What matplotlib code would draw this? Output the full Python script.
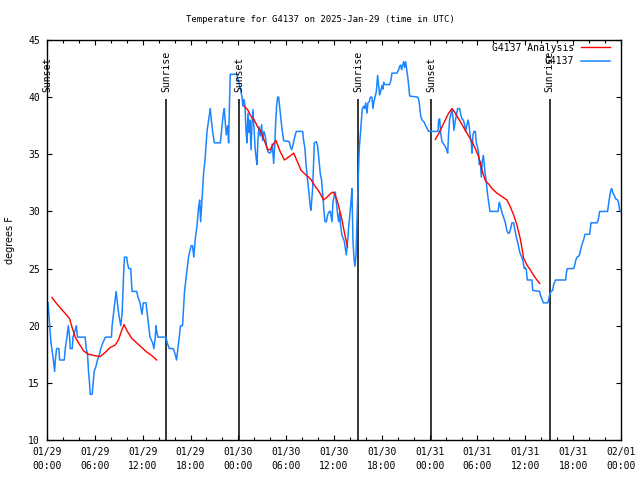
import matplotlib
matplotlib.use("Agg")
import matplotlib.pyplot as plt
import numpy as np

# ---- data (hours since 2025-01-29 00:00 UTC, degrees F) ----
obs_hours = [
    0.125, 0.333, 0.5, 0.708, 0.958, 1.042, 1.208, 1.5, 1.583, 2.167, 2.292, 2.5, 2.667, 2.833, 2.917,
    3.167, 3.25, 3.5, 3.667, 3.833, 4.792, 4.917, 5.083, 5.208, 5.333, 5.417, 5.667, 5.792, 5.917,
    6.167, 6.333, 6.583, 6.75, 7.0, 7.333, 8.083, 8.167, 8.333, 8.5, 8.667, 8.833, 9.0, 9.25, 9.417,
    9.583, 9.708, 10.0, 10.083, 10.25, 10.5, 10.667, 11.25, 11.417, 11.667, 11.917, 12.083, 12.417,
    12.583, 12.75, 12.917, 13.25, 13.417, 13.583, 13.667, 13.75, 13.917, 14.917, 15.083, 15.333,
    15.833, 16.083, 16.25, 16.417, 16.583, 16.75, 17.0, 17.083, 17.25, 17.417, 17.583, 17.75, 17.917,
    18.083, 18.25, 18.417, 18.583,
    18.81, 19.02, 19.15, 19.27, 19.40, 19.52, 19.65, 19.82, 19.94, 20.07, 20.27, 20.48, 20.61, 20.78,
    20.99, 21.74, 21.95, 22.12, 22.24, 22.37, 22.49, 22.66, 22.78, 22.91, 22.99, 23.83,
    23.91, 24.12, 24.33, 24.46, 24.58, 24.71, 24.83, 24.96, 25.08, 25.21, 25.33, 25.46, 25.59, 25.71,
    25.84, 25.96, 26.09, 26.21, 26.34, 26.46, 26.59, 26.76, 26.92, 27.05, 27.22, 27.38, 27.55, 27.72,
    27.93, 28.09, 28.26, 28.43, 28.55, 28.68, 28.80, 28.93, 29.06, 29.18, 29.31, 29.43, 29.68, 30.39,
    30.52, 30.69, 30.81, 30.94, 31.10, 31.27, 32.07, 32.19, 32.36, 32.48, 32.69, 32.86, 33.03, 33.11,
    33.20, 33.32, 33.45, 33.53, 33.78, 33.95, 34.11, 34.28, 34.45, 34.57, 34.70, 34.87, 35.04, 35.20,
    35.41,
    35.54, 35.75, 35.87, 36.04, 36.16, 36.29, 36.46, 36.58, 36.71, 36.83, 37.0, 37.13, 37.29, 37.42,
    37.54, 37.71, 37.84, 37.96, 38.13, 38.25, 38.38, 38.51, 38.63, 38.76, 38.88, 39.0, 39.09, 39.17,
    39.30, 39.43, 39.55, 39.72, 39.84, 39.97, 40.14, 40.26, 40.43, 40.55, 40.76, 40.89, 41.01, 41.14,
    41.31, 41.47, 41.60, 41.72, 41.85, 42.02, 42.14, 42.23, 42.35, 42.98, 43.15, 43.27, 43.90, 44.11,
    44.23, 44.36, 44.49, 44.61, 44.74, 44.86, 44.99, 45.11, 45.28, 45.41, 45.49, 46.49, 46.62, 46.74,
    46.87, 46.99, 47.16, 47.33, 47.49, 47.66,
    47.87, 49.04, 49.13, 49.25, 49.38, 49.54, 49.75, 49.96, 50.13, 50.26, 50.38, 50.51, 50.63, 50.80,
    50.92, 51.05, 51.18, 51.34, 51.51, 51.76, 51.89, 52.06, 52.22, 52.39, 52.51, 52.68, 52.81, 52.93,
    53.10, 53.22, 53.31, 53.43, 53.56, 53.73, 53.85, 53.98, 54.14, 54.23, 54.35, 54.48, 54.60, 54.73,
    54.85, 54.98, 55.10, 55.23, 55.40, 55.57, 56.57, 56.74, 56.86, 56.99, 57.16, 57.32, 57.49, 57.66,
    57.82, 57.99, 58.16, 58.32, 58.53, 58.66, 58.78, 58.91, 59.08, 59.24, 59.41, 59.58, 59.74, 59.87,
    59.96, 60.12, 60.25, 60.83, 60.92, 61.80, 61.88, 62.09, 62.26, 62.80, 62.93, 63.05, 63.22, 63.43,
    63.55, 63.80, 65.06, 65.14, 65.27, 66.06, 66.19, 66.31, 66.48, 66.73, 66.90, 67.02, 67.15, 67.31,
    67.48, 68.07, 68.23, 68.99, 69.16, 69.32, 70.32, 70.45, 70.58, 70.74, 70.83, 71.0, 71.16, 71.33,
    71.58, 71.71, 71.83, 71.92,
]
obs_temps = [
    22, 20, 18.5, 17.5, 16, 17, 18, 18, 17, 17, 18, 19, 20, 19, 18,
    18, 19, 19.5, 20, 19, 19, 18, 17.5, 16, 15, 14, 14, 15, 16,
    16.5, 17, 17.5, 18, 18.5, 19, 19, 20, 21, 22, 23, 22, 21, 20, 21,
    24, 26, 26, 25.5, 25, 25, 23, 23, 22.5, 22, 21, 22, 22,
    21, 20, 19, 18.5, 18, 19, 20, 19.5, 19, 19, 18.5, 18,
    18, 17.5, 17, 18, 19, 20, 20, 21, 23, 24, 25, 26, 26.5,
    27, 27, 26, 27.5,
    28.7, 30.4, 31.0, 29.1, 30.5, 31.9, 33.4, 34.5, 35.7, 37.0, 38.0, 39.0, 38.0, 37.0,
    36.0, 36.0, 37.4, 38.6, 39.0, 37.7, 36.7, 37.5, 36.0, 40.0, 42.0, 42.0,
    41.7, 41.1, 40.5, 40.0, 39.2, 39.8, 39.3, 37.1, 36.0, 38.6, 36.9, 38.0, 35.4, 37.7,
    38.9, 37.4, 35.7, 34.8, 34.1, 36.3, 37.4, 36.6, 37.6, 36.2, 37.0, 36.6, 35.7, 35.2,
    35.1, 35.2, 35.9, 34.2, 35.6, 37.7, 39.2, 40.0, 40.0, 39.2, 38.3, 37.5, 36.2, 36.1,
    35.7, 35.4, 35.7, 36.1, 36.6, 37.0, 37.0, 36.2, 35.5, 34.2, 32.7, 31.6, 30.4, 30.1,
    30.9, 32.0, 34.5, 36.0, 36.1, 35.7, 34.5, 33.3, 32.7, 31.6, 30.4, 29.1, 29.1, 29.7,
    30.0,
    30.0, 29.1, 30.8, 31.4, 31.7, 30.8, 29.7, 29.1, 29.9, 28.8, 27.9, 27.7, 27.4, 26.8,
    26.2, 27.4, 28.6, 29.5, 30.8, 32.0, 27.4, 25.9, 25.2, 26.2, 29.1, 32.0, 33.8, 35.5,
    36.7, 37.8, 39.0, 39.2, 39.0, 39.5, 38.6, 39.5, 39.6, 40.0, 40.0, 39.0, 39.6, 40.0,
    40.5, 41.9, 41.0, 40.2, 40.5, 41.0, 40.7, 41.3, 41.1, 41.1, 41.5, 42.1, 42.1, 42.4,
    42.7, 42.8, 42.4, 42.8, 43.1, 42.6, 43.1, 42.5, 41.6, 40.7, 40.1, 40.0, 39.8, 39.2,
    38.4, 38.1, 37.9, 37.8, 37.5, 37.3,
    37.0, 37.0, 38.0, 38.1, 36.9, 36.1, 35.9, 35.7, 35.4, 35.1, 36.9, 38.1, 38.4, 38.9,
    38.2, 37.1, 37.8, 38.4, 39.0, 39.0, 38.5, 38.1, 38.0, 37.6, 37.0, 37.6, 38.0, 37.6,
    36.5, 36.0, 35.1, 36.7, 37.0, 37.0, 36.0, 35.7, 35.1, 34.1, 34.4, 33.0, 34.4, 34.9,
    34.1, 33.2, 32.6, 31.7, 30.8, 30.0, 30.0, 30.8, 30.5, 30.1, 29.7, 29.4, 29.0, 28.4,
    28.1, 28.1, 28.5, 29.0, 29.0, 28.5, 28.1, 27.6, 27.2, 26.6, 26.2, 26.0, 25.5, 25.0,
    25.1, 24.9, 24.0, 24.0, 23.1, 23.0, 22.7, 22.3, 22.0, 22.0, 22.3, 22.7, 23.0, 23.1,
    23.6, 24.0, 24.0, 24.6, 25.0, 25.0, 25.3, 25.7, 26.0, 26.1, 26.5, 26.9, 27.2, 27.5,
    28.0, 28.0, 29.0, 29.0, 29.3, 30.0, 30.0, 30.7, 31.3, 31.9, 32.0, 31.6, 31.4, 31.1,
    31.0, 30.7, 30.1, 30.0,
]

ana1_hours = [0.625, 1.25, 1.875, 2.5, 2.833, 3.125, 3.542, 3.958, 4.583, 5.208, 5.833, 6.667,
              7.292, 7.917, 8.542, 8.958, 9.375, 9.667, 10.0, 10.625, 11.25, 11.875, 12.5, 13.125, 13.75]
ana1_temps = [22.46, 21.9, 21.4, 20.9, 20.6, 19.9, 19.0, 18.5, 17.8, 17.5, 17.4, 17.3,
              17.65, 18.1, 18.3, 18.75, 19.6, 20.1, 19.6, 18.9, 18.5, 18.1, 17.7, 17.4, 17.0]

ana2_hours = [24.75, 25.17, 25.59, 26.0, 26.42, 26.84, 27.26, 27.68, 28.01, 28.30, 28.72, 29.27,
              29.77, 30.39, 30.94, 31.44, 31.86, 32.48, 33.11, 33.53, 34.16, 34.70, 35.20, 35.62,
              35.87, 36.16, 36.46, 36.71, 36.96, 37.21, 37.38, 37.54, 37.71]
ana2_temps = [39.2, 38.9, 38.3, 38.0, 37.4, 37.0, 36.2, 35.4, 35.4, 35.8, 36.2, 35.2,
              34.5, 34.8, 35.1, 34.3, 33.6, 33.2, 32.8, 32.3, 31.7, 31.0, 31.3, 31.6,
              31.7, 31.4, 30.8, 30.1, 29.4, 28.5, 27.9, 27.4, 26.9]

ana3_hours = [48.71, 49.13, 49.54, 49.96, 50.38, 50.80, 51.22, 51.63, 52.06, 52.47, 52.89, 53.31,
              53.73, 54.14, 54.56, 54.98, 55.40, 55.82, 56.44, 57.07, 57.70, 58.12, 58.53, 58.95,
              59.37, 59.79, 60.21, 60.62, 61.04, 61.46, 61.80]
ana3_temps = [36.3, 36.8, 37.4, 38.0, 38.6, 39.0, 38.6, 38.1, 37.6, 37.1, 36.6, 36.1,
              35.5, 34.8, 33.6, 32.7, 32.4, 32.0, 31.6, 31.3, 31.0, 30.4, 29.7, 28.8,
              27.6, 25.9, 25.3, 24.9, 24.4, 24.0, 23.7]

sun_hours = [0.05, 14.95, 24.1, 39.05, 48.2, 63.05]
sun_labels = ["Sunset", "Sunrise", "Sunset", "Sunrise", "Sunset", "Sunrise"]

tick_hours = [0, 6, 12, 18, 24, 30, 36, 42, 48, 54, 60, 66, 72]
tick_labels = ["01/29\n00:00", "01/29\n06:00", "01/29\n12:00", "01/29\n18:00",
               "01/30\n00:00", "01/30\n06:00", "01/30\n12:00", "01/30\n18:00",
               "01/31\n00:00", "01/31\n06:00", "01/31\n12:00", "01/31\n18:00",
               "02/01\n00:00"]
y_ticks = [10, 15, 20, 25, 30, 35, 40, 45]

title = "Temperature for G4137 on 2025-Jan-29 (time in UTC)"

# ---- figure ----
MONO = "DejaVu Sans Mono"
fig = plt.figure(figsize=(6.4, 4.8), dpi=100)
ax = fig.add_axes([47 / 640, 1 - 440 / 480, 574 / 640, 400 / 480])

ax.vlines(sun_hours, 10, 39.8, colors="black", linewidth=1.1, zorder=1)
for h, lab in zip(sun_hours, sun_labels):
    ax.text(h, 40.45, lab, rotation=90, ha="center", va="bottom",
            family=MONO, fontsize=7, zorder=3)

red = "#ff0000"
blue = "#1a85ff"
ax.plot(ana1_hours, ana1_temps, color=red, lw=1.0, zorder=3, label="G4137 Analysis")
ax.plot(ana2_hours, ana2_temps, color=red, lw=1.0, zorder=3)
ax.plot(ana3_hours, ana3_temps, color=red, lw=1.0, zorder=3)
ax.plot(obs_hours, obs_temps, color=blue, lw=1.1, zorder=2, label="G4137")

ax.set_xlim(0, 72)
ax.set_ylim(10, 45)
ax.set_xticks(tick_hours)
ax.set_xticklabels(tick_labels, family=MONO, fontsize=7)
ax.set_xticks(np.arange(0, 73, 2), minor=True)
ax.set_yticks(y_ticks)
ax.set_yticklabels([str(v) for v in y_ticks], family=MONO, fontsize=7)
for lab in ax.get_xticklabels():
    lab.set_linespacing(1.45)

ax.tick_params(which="both", direction="in", top=True, right=True, width=0.8, color="black")
ax.tick_params(which="major", length=3.6)
ax.tick_params(which="minor", length=2.0)
ax.tick_params(axis="x", which="major", pad=5)
ax.tick_params(axis="y", which="major", pad=5)
for sp in ax.spines.values():
    sp.set_linewidth(1.0)
    sp.set_color("black")

leg = ax.legend(loc="upper right", bbox_to_anchor=(0.981, 0.993), frameon=False,
                markerfirst=False, handlelength=3.0, handletextpad=0.7,
                borderaxespad=0, borderpad=0, labelspacing=0.35,
                prop={"family": MONO, "size": 7})
leg.set_zorder(5)

fig.text(10 / 640, 0.5, "degrees F", rotation=90, ha="center", va="center",
         family="DejaVu Sans", fontsize=7)
fig.text(0.5, 1 - 19 / 480, title, ha="center", va="center", family=MONO, fontsize=6.5)

fig.savefig("out.png", dpi=100)
